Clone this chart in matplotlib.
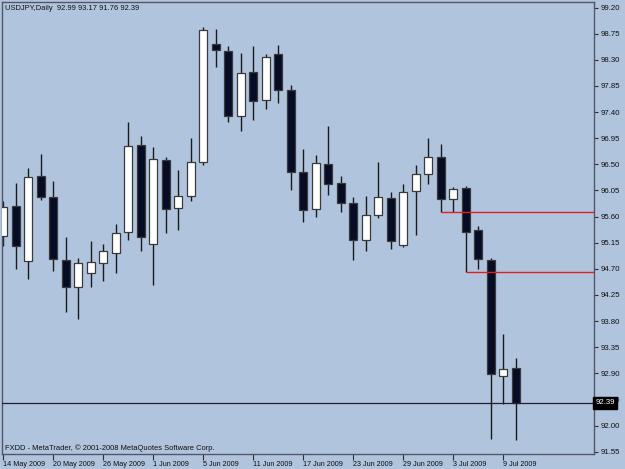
import matplotlib
matplotlib.use("Agg")
import matplotlib.pyplot as plt
import numpy as np

plt.rcParams["font.family"] = ["Liberation Sans", "DejaVu Sans"]

# ---- data (USDJPY daily) ----
dates = ["14 May", "15 May", "18 May", "19 May", "20 May", "21 May", "22 May", "25 May",
         "26 May", "27 May", "28 May", "29 May", "1 Jun", "2 Jun", "3 Jun", "4 Jun",
         "5 Jun", "8 Jun", "9 Jun", "10 Jun", "11 Jun", "12 Jun", "15 Jun", "16 Jun",
         "17 Jun", "18 Jun", "19 Jun", "22 Jun", "23 Jun", "24 Jun", "25 Jun", "26 Jun",
         "29 Jun", "30 Jun", "1 Jul", "2 Jul", "3 Jul", "6 Jul", "7 Jul", "8 Jul",
         "9 Jul", "10 Jul"]
opens = [95.27, 95.78, 94.83, 96.29, 95.94, 94.86, 94.38, 94.62, 94.80, 94.98,
         95.33, 96.84, 95.12, 96.57, 95.74, 95.96, 96.54, 98.57, 98.45, 97.34,
         98.09, 97.60, 98.40, 97.78, 96.36, 95.73, 96.51, 96.17, 95.83, 95.20,
         95.62, 95.92, 95.11, 96.04, 96.34, 96.63, 95.90, 96.10, 95.36, 94.86,
         92.86, 92.99]
highs = [95.86, 96.17, 96.43, 96.68, 96.21, 95.25, 94.89, 95.18, 95.13, 95.48,
         97.23, 96.99, 96.79, 96.62, 96.40, 96.95, 98.86, 98.83, 98.53, 98.41,
         98.54, 98.40, 98.55, 97.86, 96.76, 96.66, 97.16, 96.29, 95.93, 95.95,
         96.54, 96.02, 96.16, 96.49, 96.96, 96.85, 96.11, 96.13, 95.43, 94.88,
         93.58, 93.17]
lows = [95.09, 94.70, 94.52, 95.89, 94.67, 93.95, 93.83, 94.39, 94.49, 94.62,
        95.20, 95.00, 94.42, 95.31, 95.36, 95.86, 96.49, 98.18, 97.22, 97.08,
        97.26, 97.45, 97.56, 96.05, 95.50, 95.60, 95.97, 95.68, 94.85, 95.01,
        95.58, 95.04, 95.08, 95.28, 96.16, 95.68, 95.68, 94.65, 94.69, 91.77,
        92.37, 91.76]
closes = [95.77, 95.09, 96.28, 95.94, 94.87, 94.39, 94.80, 94.81, 95.01, 95.31,
          96.81, 95.25, 96.59, 95.73, 95.96, 96.54, 98.81, 98.46, 97.34, 98.08,
          97.59, 98.34, 97.78, 96.36, 95.71, 96.52, 96.16, 95.84, 95.20, 95.62,
          95.93, 95.18, 96.03, 96.33, 96.62, 95.91, 96.07, 95.34, 94.87, 92.89,
          92.97, 92.39]
date_ticks = ["14 May 2009", "20 May 2009", "26 May 2009", "1 Jun 2009", "5 Jun 2009",
              "11 Jun 2009", "17 Jun 2009", "23 Jun 2009", "29 Jun 2009", "3 Jul 2009",
              "9 Jul 2009"]
price_ticks = [91.55, 92.00, 92.45, 92.90, 93.35, 93.80, 94.25, 94.70, 95.15,
               95.60, 96.05, 96.50, 96.95, 97.40, 97.85, 98.30, 98.75, 99.20]
level_lines = [95.68, 94.65]      # red horizontal levels
level_starts = [35, 37]            # bar index where each level starts
symbol = "USDJPY,Daily"
last_close = closes[-1]

BG = "#b0c4de"
DARK = "#070c26"
EDGE = "#3a3a3a"
TXT = "#101010"

W, H = 625, 469
fig = plt.figure(figsize=(W / 100, H / 100), dpi=100, facecolor=BG)
ax = fig.add_axes([2 / W, (H - 454) / H, 592 / W, 452 / H], facecolor=BG)

x = np.arange(len(opens))
o = np.array(opens); h = np.array(highs); l = np.array(lows); c = np.array(closes)
up = c >= o

# wicks
ax.vlines(x, l, h, color="#1a1a1a", linewidth=1.0, zorder=2)
# bodies
bw = 0.64
bottoms = np.minimum(o, c)
heights = np.maximum(np.abs(c - o), 0.02)
ax.bar(x[up], heights[up], bottom=bottoms[up], width=bw, color="white",
       edgecolor=EDGE, linewidth=0.9, zorder=3)
ax.bar(x[~up], heights[~up], bottom=bottoms[~up], width=bw, color=DARK,
       edgecolor=EDGE, linewidth=0.9, zorder=3)

xmin, xmax = -0.08, 47.28
ymin, ymax = 91.511, 99.295
ax.set_xlim(xmin, xmax)
ax.set_ylim(ymin, ymax)

# red levels
for lv, st in zip(level_lines, level_starts):
    ax.hlines(lv, st, xmax, color="#e02020", linewidth=1.0, zorder=4)

# last close line
ax.axhline(last_close, color="#202030", linewidth=0.9, zorder=4)

# axes frame
for s in ax.spines.values():
    s.set_color("#505868")
    s.set_linewidth(1.0)

# y axis on right
ax.yaxis.tick_right()
ax.set_yticks(price_ticks)
ax.set_yticklabels([f"{p:.2f}" for p in price_ticks])
ax.tick_params(axis="y", direction="out", length=3, width=0.8, colors="#303030",
               labelsize=5.6, pad=1.5, labelcolor=TXT)

# x axis
xt = [i * 4 for i in range(len(date_ticks))]
ax.set_xticks(xt)
ax.set_xticklabels(date_ticks, ha="left")
ax.tick_params(axis="x", direction="out", length=4, width=0.8, colors="#303030",
               labelsize=5.2, pad=1.0, labelcolor=TXT)

# current price label
ax.text(1.0 + 1.5 / 592, last_close, f"{last_close:.2f}", transform=ax.get_yaxis_transform(),
        ha="left", va="center", fontsize=5.6, color="white", zorder=10, clip_on=False,
        bbox=dict(boxstyle="square,pad=0.3", facecolor="#000000", edgecolor="#000000"))

# header and footer texts
fig.text(5 / W, 1 - 8 / H, f"{symbol}  {opens[-1]:.2f} {highs[-1]:.2f} {lows[-1]:.2f} {closes[-1]:.2f}",
         ha="left", va="center", fontsize=5.4, color=TXT)
fig.text(5 / W, 1 - 448 / H, "FXDD - MetaTrader, © 2001-2008 MetaQuotes Software Corp.",
         ha="left", va="center", fontsize=5.4, color=TXT)

fig.savefig("out.png", dpi=100, facecolor=BG)
